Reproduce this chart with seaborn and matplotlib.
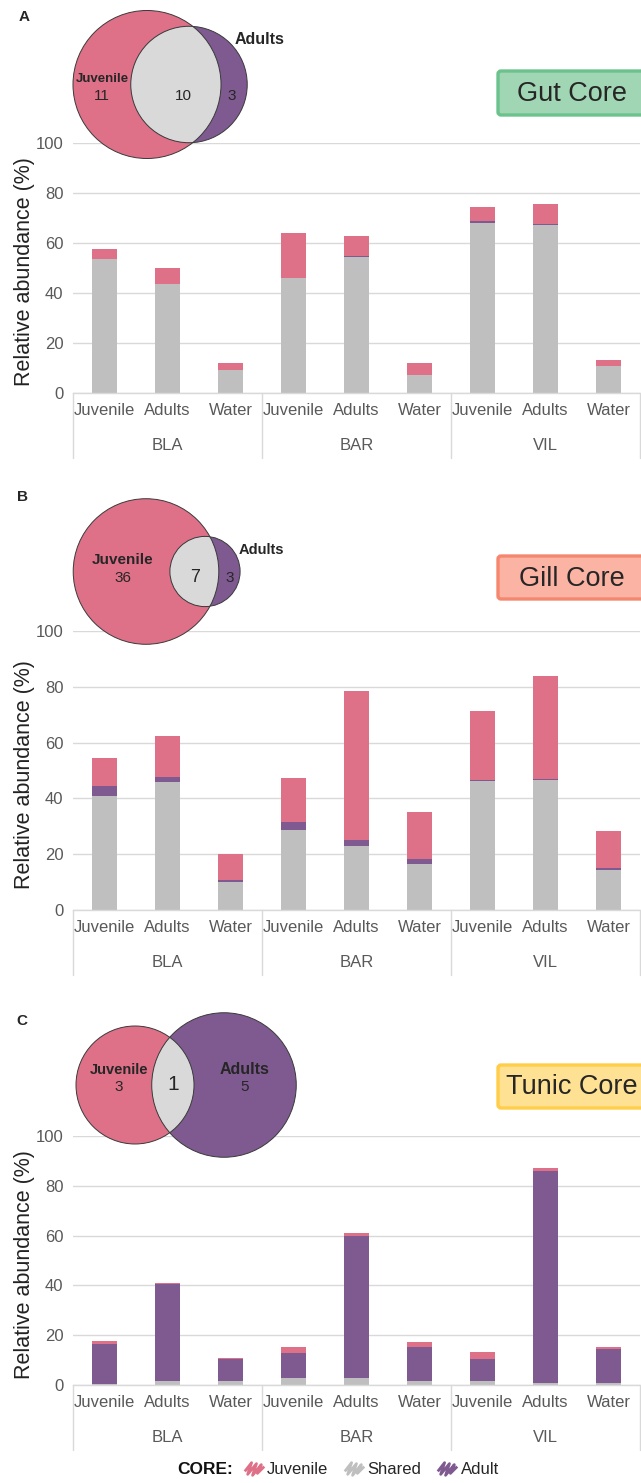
import numpy as np
import pandas as pd
import matplotlib
matplotlib.use("Agg")
import matplotlib.pyplot as plt
from matplotlib.patches import Circle, FancyBboxPatch
from matplotlib.lines import Line2D
from matplotlib.path import Path
import seaborn as sns

# ---- data ----
SITES = ["BLA", "BAR", "VIL"]
SAMPLES = ["Juvenile", "Adults", "Water"]

GUT_SHARED = [53.6, 43.5, 9.2, 46.2, 54.5, 7.4, 68.2, 67.4, 10.9]
GUT_ADULT = [0.0, 0.0, 0.0, 0.0, 0.4, 0.0, 0.5, 0.4, 0.0]
GUT_JUV = [4.2, 6.7, 2.9, 18.0, 8.1, 4.7, 5.8, 7.9, 2.3]

GILL_SHARED = [40.8, 45.7, 9.9, 28.7, 22.8, 16.4, 46.2, 46.7, 14.3]
GILL_ADULT = [3.8, 2.1, 0.8, 2.7, 2.2, 1.9, 0.5, 0.1, 0.7]
GILL_JUV = [9.9, 14.7, 9.4, 15.8, 53.5, 16.9, 24.8, 37.2, 13.2]

TUNIC_SHARED = [0.5, 1.6, 1.6, 2.7, 2.7, 1.6, 1.5, 0.9, 0.9]
TUNIC_ADULT = [16.0, 38.9, 8.7, 10.3, 57.2, 13.8, 8.8, 84.9, 13.5]
TUNIC_JUV = [1.2, 0.5, 0.6, 2.4, 1.3, 1.8, 2.9, 1.2, 1.0]

# venn counts: juvenile only, shared, adults only
GUT_VENN = (11, 10, 3)
GILL_VENN = (36, 7, 3)
TUNIC_VENN = (3, 1, 5)

PINK = "#de7088"
PURPLE = "#7e5a90"
GRAY = "#bfbfbf"
LGRAY = "#d9d9d9"
TICK = "#595959"

W, H = 641, 1483


def fx(px):
    return px / W


def fy(py):
    return 1 - py / H


sns.set_theme(style="white")
plt.rcParams["font.family"] = ["Liberation Sans", "DejaVu Sans"]

fig = plt.figure(figsize=(W / 100, H / 100), dpi=100)

# panel layout in pixels: (y of 100 line, y of 0 line)
PANELS = [
    ("A", GUT_SHARED, GUT_ADULT, GUT_JUV, 143, 393),
    ("B", GILL_SHARED, GILL_ADULT, GILL_JUV, 631, 910),
    ("C", TUNIC_SHARED, TUNIC_ADULT, TUNIC_JUV, 1136, 1385),
]
AX_L, AX_R = 73, 640

keys = [f"{s}-{t}" for s in SITES for t in SAMPLES]

for letter, shared, adult, juv, ytop, ybot in PANELS:
    ax = fig.add_axes([fx(AX_L), fy(ybot), (AX_R - AX_L) / W, (ybot - ytop) / H])
    df = pd.DataFrame({"key": keys, "shared": shared, "adult": adult, "juv": juv})
    df["mid"] = df["shared"] + df["adult"]
    df["total"] = df["mid"] + df["juv"]
    # stacked look by overlapping cumulative bars
    for col, c in [("total", PINK), ("mid", PURPLE), ("shared", GRAY)]:
        sns.barplot(data=df, x="key", y=col, order=keys, color=c, saturation=1,
                    width=0.4, linewidth=0, errorbar=None, ax=ax)
    ax.set_ylim(0, 100)
    ax.set_yticks(range(0, 101, 20))
    ax.set_xlim(-0.5, len(keys) - 0.5)
    ax.yaxis.grid(True, color=LGRAY, lw=1)
    ax.set_axisbelow(True)
    sns.despine(ax=ax, left=True)
    ax.spines["bottom"].set_color(LGRAY)
    ax.spines["bottom"].set_linewidth(1)
    ax.set_xlabel("")
    ax.set_ylabel("")
    ax.set_xticks(range(len(keys)))
    ax.set_xticklabels(SAMPLES * len(SITES))
    ax.tick_params(axis="x", length=0, pad=7, labelsize=12, labelcolor=TICK)
    ax.tick_params(axis="y", length=0, pad=7, labelsize=12, labelcolor=TICK)

    # group labels and separators
    hpx = ybot - ytop
    trans = ax.get_xaxis_transform()
    for gi, site in enumerate(SITES):
        ax.text(gi * 3 + 1, -52 / hpx, site, transform=trans, ha="center",
                va="center", fontsize=12, color=TICK)
    for xs in [-0.5, 2.5, 5.5, 8.5]:
        ax.plot([xs, xs], [0, -65 / hpx], transform=trans, color=LGRAY, lw=1,
                clip_on=False)

    fig.text(fx(25), fy((ytop + ybot) / 2 + 4), "Relative abundance (%)",
             rotation=90, ha="center", va="center", fontsize=15.5, color="#222222")

# overlay for venns, title boxes and panel letters (pixel coords)
ov = fig.add_axes([0, 0, 1, 1], zorder=5)
ov.set_xlim(0, W)
ov.set_ylim(H, 0)
ov.axis("off")


def venn(counts, cxj, cxa, cy, k, fs):
    nj, ns, na = counts
    rj = k * np.sqrt(nj + ns)
    ra = k * np.sqrt(na + ns)
    pj = Circle((cxj, cy), rj, fc=PINK, ec="none")
    pa = Circle((cxa, cy), ra, fc=PURPLE, ec="none")
    ov.add_patch(pj)
    ov.add_patch(pa)
    mid = Circle((cxa, cy), ra, fc=LGRAY, ec="none")
    ov.add_patch(mid)
    mid.set_clip_path(pj)
    for c in [(cxj, rj), (cxa, ra)]:
        ov.add_patch(Circle((c[0], cy), c[1], fill=False, ec="#3a3a3a", lw=0.7))
    return rj, ra


venn(GUT_VENN, 147, 189, 84.5, 16.15, 11)
ov.text(102, 79, "Juvenile", ha="center", va="center", fontsize=9.5, weight="bold")
ov.text(102, 96, str(GUT_VENN[0]), ha="center", va="center", fontsize=11)
ov.text(183, 96, str(GUT_VENN[1]), ha="center", va="center", fontsize=11)
ov.text(232, 96, str(GUT_VENN[2]), ha="center", va="center", fontsize=11)
ov.text(260, 40, "Adults", ha="center", va="center", fontsize=11.5, weight="bold")

venn(GILL_VENN, 146, 205, 571.5, 11.1, 11)
ov.text(123, 560, "Juvenile", ha="center", va="center", fontsize=11, weight="bold")
ov.text(123, 578, str(GILL_VENN[0]), ha="center", va="center", fontsize=11)
ov.text(195, 577, str(GILL_VENN[1]), ha="center", va="center", fontsize=13)
ov.text(230, 578, str(GILL_VENN[2]), ha="center", va="center", fontsize=11)
ov.text(261, 550, "Adults", ha="center", va="center", fontsize=10.5, weight="bold")

venn(TUNIC_VENN, 135, 224, 1085, 29.5, 11)
ov.text(119, 1070, "Juvenile", ha="center", va="center", fontsize=10.5, weight="bold")
ov.text(119, 1087, str(TUNIC_VENN[0]), ha="center", va="center", fontsize=11)
ov.text(173, 1085, str(TUNIC_VENN[1]), ha="center", va="center", fontsize=15)
ov.text(245, 1069, "Adults", ha="center", va="center", fontsize=11.5, weight="bold")
ov.text(245, 1087, str(TUNIC_VENN[2]), ha="center", va="center", fontsize=11)

# title boxes
for label, y0, y1, fc, ec in [
    ("Gut Core", 71, 115, "#a1d6b4", "#6cc28c"),
    ("Gill Core", 556, 599, "#fbb3a4", "#f6876f"),
    ("Tunic Core", 1065, 1108, "#ffe194", "#ffcd48"),
]:
    ov.add_patch(FancyBboxPatch((498, y0), 200, y1 - y0,
                                boxstyle="round,pad=0,rounding_size=3",
                                fc=fc, ec=ec, lw=2.4, clip_on=False))
    ov.text(572, (y0 + y1) / 2 + 1, label, ha="center", va="center",
            fontsize=19.5, color="#262626")

for letter, x, y in [("A", 24, 17), ("B", 22, 497), ("C", 22, 1021)]:
    ov.text(x, y, letter, ha="center", va="center", fontsize=11, weight="bold")

# legend with scribble markers
scrib = Path([(-1.0, -0.3), (-0.3, 0.6), (-0.7, -0.6), (0.2, 0.5), (-0.2, -0.7),
              (0.7, 0.4), (0.3, -0.5), (1.0, 0.2)])
handles = [Line2D([], [], marker=scrib, ls="none", mec=c, mfc="none", ms=14, mew=2)
           for c in [PINK, GRAY, PURPLE]]
fig.text(fx(177), fy(1469), "CORE:", ha="left", va="center", fontsize=12.5,
         weight="bold", color="#111111")
fig.legend(handles, ["Juvenile", "Shared", "Adult"], loc="center left",
           bbox_to_anchor=(fx(243), fy(1469)), ncol=3, frameon=False, fontsize=12,
           handlelength=1.3, handletextpad=0.15, columnspacing=0.9,
           borderpad=0, borderaxespad=0, labelcolor="#262626")

fig.savefig("out.png", dpi=100)
